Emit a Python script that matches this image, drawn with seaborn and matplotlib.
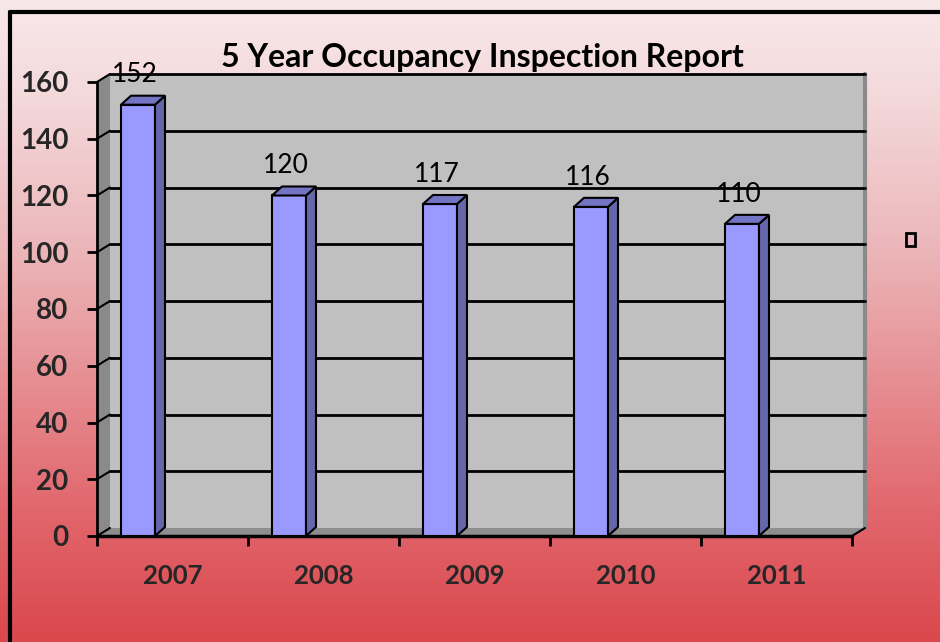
import matplotlib
matplotlib.use("Agg")
import matplotlib.pyplot as plt
import seaborn as sns
import numpy as np
from matplotlib.colors import LinearSegmentedColormap
from matplotlib.patches import Polygon, Rectangle
from matplotlib.lines import Line2D

years = ["2007", "2008", "2009", "2010", "2011"]
inspections = [152, 120, 117, 116, 110]
y_ticks = [0, 20, 40, 60, 80, 100, 120, 140, 160]
title = "5 Year Occupancy Inspection Report"

sns.set_theme(style="white")
plt.rcParams['font.family'] = ['Lato', 'DejaVu Sans']

W, H = 940, 642
fig = plt.figure(figsize=(W / 100, H / 100), dpi=100)

# gradient background
bg = fig.add_axes([0, 0, 1, 1], zorder=-10)
grad_cmap = LinearSegmentedColormap.from_list(
    "bg", [(0.0, "#F8E8EA"), (0.15, "#F4D9DB"), (0.4, "#EBB4B7"),
           (0.8, "#E1666C"), (1.0, "#DA484D")])
bg.imshow(np.linspace(0, 1, 256).reshape(-1, 1), aspect="auto", cmap=grad_cmap,
          extent=[0, 1, 0, 1], origin="upper")
bg.set_axis_off()

# black frame (left and top edges visible)
fig.add_artist(Line2D([9.5 / W, 9.5 / W], [0, 1 - 12 / H], color="black", lw=3,
                      transform=fig.transFigure))
fig.add_artist(Line2D([9.5 / W, 1], [1 - 12 / H, 1 - 12 / H], color="black", lw=3,
                      transform=fig.transFigure))

x0px, x1px, y0px, y1px = 97, 852, 536, 82
ax = fig.add_axes([x0px / W, 1 - y0px / H, (x1px - x0px) / W, (y0px - y1px) / H])
ax.set_xlim(-0.5, 4.5)
ax.set_ylim(0, 160)
ax.patch.set_alpha(0)
for s in ax.spines.values():
    s.set_visible(False)

px_x = (x1px - x0px) / 5.0        # pixels per category
px_y = (y0px - y1px) / 160.0      # pixels per unit
dx, dy = 13 / px_x, 8 / px_y      # wall depth

# back wall, left wall, floor
ax.add_patch(Rectangle((-0.5 + dx, dy), 5, 160, facecolor="#C0C0C0", edgecolor="none",
                       zorder=0, clip_on=False))
ax.add_patch(Polygon([(-0.5, 0), (-0.5 + dx, dy), (-0.5 + dx, 160 + dy), (-0.5, 160)],
                     closed=True, facecolor="#8A8A8A", edgecolor="none", zorder=0, clip_on=False))
ax.add_patch(Polygon([(-0.5, 0), (4.5, 0), (4.5 + dx, dy), (-0.5 + dx, dy)],
                     closed=True, facecolor="#8E8E8E", edgecolor="none", zorder=0.5, clip_on=False))
ax.plot([4.5 + dx, 4.5 + dx], [dy, 160 + dy], color="#8A8A8A", lw=3, zorder=0.6, clip_on=False)

for v in y_ticks:
    if v > 0:
        ax.plot([-0.5 + dx, 4.5 + dx], [v + dy, v + dy], color="black", lw=2, zorder=1, clip_on=False)
    ax.plot([-0.5, -0.5 + dx], [v, v + dy], color="black", lw=1.5, zorder=1, clip_on=False)
ax.plot([-0.5, -0.5], [0, 160], color="black", lw=2, zorder=1, clip_on=False)
ax.plot([-0.5, 4.5], [0, 0], color="black", lw=2.5, zorder=2, clip_on=False)
ax.plot([4.5, 4.5 + dx], [0, dy], color="black", lw=1.5, zorder=2, clip_on=False)

# bars
bar_w = 34 / px_x
shift = -0.2285
sns.barplot(x=years, y=inspections, ax=ax, width=bar_w, color="#9999FF",
            saturation=1, edgecolor="black", linewidth=1.5, zorder=3)
ax.set_xlim(-0.5, 4.5)
ax.set_ylim(0, 160)
bdx, bdy = 10 / px_x, 9 / px_y
for p, val in zip(ax.patches[-len(years):], inspections):
    p.set_x(p.get_x() + shift)
    p.set_clip_on(False)
    xa, xb, h = p.get_x(), p.get_x() + p.get_width(), p.get_height()
    ax.add_patch(Polygon([(xb, 0), (xb + bdx, bdy), (xb + bdx, h + bdy), (xb, h)], closed=True,
                         facecolor="#6666AA", edgecolor="black", lw=1.5, zorder=3, clip_on=False))
    ax.add_patch(Polygon([(xa, h), (xa + bdx, h + bdy), (xb + bdx, h + bdy), (xb, h)], closed=True,
                         facecolor="#7474C4", edgecolor="black", lw=1.5, zorder=3, clip_on=False))
    ax.text(xa + (xb - xa) / 2 - 0.02, h + 10.5, str(val), ha="center", va="center",
            fontsize=19, color="black", zorder=5)

# ticks
ax.set_yticks(y_ticks)
ax.set_yticklabels([str(v) for v in y_ticks], fontsize=20, fontweight="bold")
ax.tick_params(axis="y", left=True, length=7, width=2, pad=13.5, color="black", direction="out")
ax.set_xticks(range(len(years)))
ax.set_xticklabels(years, fontsize=18.5, fontweight="bold")
ax.set_xticks(np.arange(-0.5, 5, 1), minor=True)
ax.tick_params(axis="x", which="major", length=0, pad=20)
ax.tick_params(axis="x", which="minor", bottom=True, length=7, width=2, color="black", direction="out")
ax.set_xlabel("")
ax.set_ylabel("")
ax.grid(False)

fig.text(482 / W, 1 - 57 / H, title, ha="center", va="center", fontsize=23,
         fontweight="bold", color="black")

# legend marker (empty series entry)
fig.add_artist(Rectangle((906 / W, 1 - 246 / H), 9 / W, 13 / H, facecolor="none",
                         edgecolor="black", lw=2, transform=fig.transFigure))

fig.savefig("out.png", dpi=100)
